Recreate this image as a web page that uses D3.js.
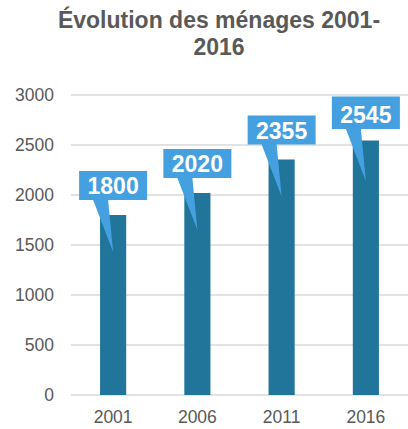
<!DOCTYPE html>
<html>
<head>
<meta charset="utf-8">
<script src="https://cdn.jsdelivr.net/npm/d3@7"></script>
<style>
  body { margin: 0; background: white; }
  text { font-family: "Liberation Sans", Arial, sans-serif; }
</style>
</head>
<body>
<div id="chart"></div>
<script>
let width = 408, height = 429;

let margin = { top: 95, bottom: 34, left: 71, right: 0 };

let years = ['2001', '2006', '2011', '2016'];
let households = [1800, 2020, 2355, 2545];
let yTicks = [0, 500, 1000, 1500, 2000, 2500, 3000];
let titleLines = ['Évolution des ménages 2001-', '2016'];

let svg = d3.select('#chart')
  .append('svg')
  .attr('width', width)
  .attr('height', height)
  .style('background', 'white');

let data = years.map((y, i) => ({ year: y, value: households[i] }));

let xscale = d3.scaleBand()
  .domain(years)
  .range([margin.left, width - margin.right])
  .paddingInner(0.69)
  .paddingOuter(0.345);

let yscale = d3.scaleLinear()
  .domain([0, 3000])
  .range([height - margin.bottom, margin.top]);

// title
svg.append('text')
  .attr('x', 219)
  .attr('y', 28)
  .attr('text-anchor', 'middle')
  .style('font-size', '23px')
  .style('font-weight', 'bold')
  .style('fill', '#595959')
  .selectAll('tspan')
  .data(titleLines)
  .enter()
  .append('tspan')
  .attr('x', 219)
  .attr('dy', (d, i) => i === 0 ? 0 : 27)
  .text(d => d);

// gridlines
svg.append('g')
  .selectAll('line')
  .data(yTicks)
  .enter()
  .append('line')
  .attr('x1', margin.left)
  .attr('x2', width - margin.right)
  .attr('y1', d => yscale(d))
  .attr('y2', d => yscale(d))
  .attr('stroke', '#d9d9d9')
  .attr('stroke-width', 1.3);

// y axis labels
let yAxis = svg.append('g')
  .attr('transform', `translate(${margin.left}, 0)`)
  .call(d3.axisLeft(yscale).tickValues(yTicks).tickFormat(d3.format('d')).tickSize(0).tickPadding(17));
yAxis.select('.domain').remove();
yAxis.selectAll('text')
  .style('font-size', '17.5px')
  .style('fill', '#595959')
  .style('font-family', '"Liberation Sans", Arial, sans-serif');

// x axis labels
let xAxis = svg.append('g')
  .attr('transform', `translate(0, ${height - margin.bottom})`)
  .call(d3.axisBottom(xscale).tickSize(0).tickPadding(16));
xAxis.select('.domain').remove();
xAxis.selectAll('text')
  .style('font-size', '17.5px')
  .style('fill', '#595959')
  .style('font-family', '"Liberation Sans", Arial, sans-serif');

// bars
svg.selectAll('rect.bar')
  .data(data)
  .enter()
  .append('rect')
  .attr('class', 'bar')
  .attr('x', d => xscale(d.year))
  .attr('y', d => yscale(d.value))
  .attr('width', xscale.bandwidth())
  .attr('height', d => yscale(0) - yscale(d.value))
  .attr('fill', '#21759b');

// callouts
let boxW = 68, boxH = 29;
let callouts = svg.selectAll('g.callout')
  .data(data)
  .enter()
  .append('g')
  .attr('class', 'callout');

callouts.append('path')
  .attr('d', d => {
    let cx = xscale(d.year) + xscale.bandwidth() / 2;
    let bottom = Math.max(yscale(d.value) - 15, margin.top + 34);
    let top = Math.min(bottom - boxH, yscale(d.value) - 15 - boxH);
    top = Math.max(top, margin.top + 1);
    let left = cx - boxW / 2;
    let tipY = bottom + 52;
    return `M${left},${top} H${left + boxW} V${bottom} H${cx - 5} L${cx},${tipY} L${cx - 20},${bottom} H${left} Z`;
  })
  .attr('fill', '#45a0e0');

callouts.append('text')
  .attr('x', d => xscale(d.year) + xscale.bandwidth() / 2)
  .attr('y', d => {
    let bottom = Math.max(yscale(d.value) - 15, margin.top + 34);
    return bottom - 6;
  })
  .attr('text-anchor', 'middle')
  .style('font-size', '23px')
  .style('font-weight', 'bold')
  .style('fill', 'white')
  .text(d => d.value);
</script>
</body>
</html>
